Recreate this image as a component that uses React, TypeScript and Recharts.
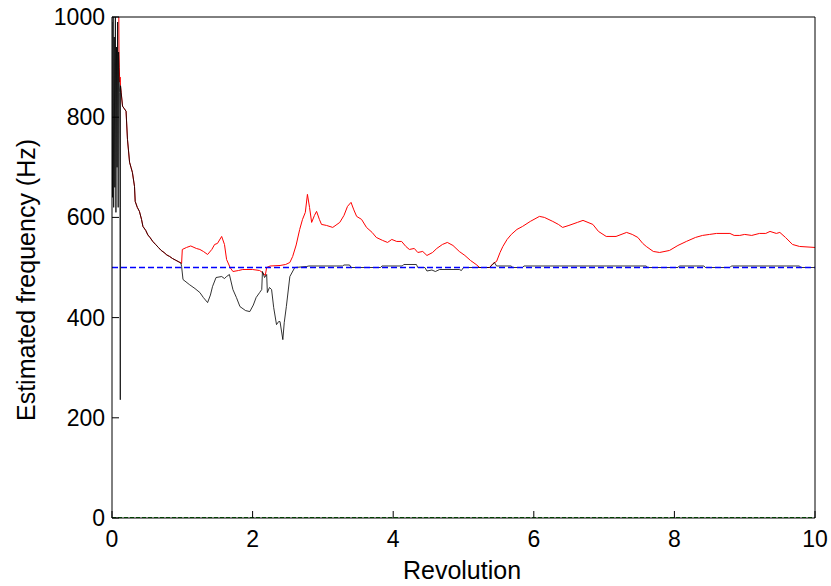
import { Label, Line, LineChart, XAxis, YAxis } from "recharts";

const xTicks = [0, 2, 4, 6, 8, 10];
const yTicks = [0, 200, 400, 600, 800, 1000];

// start-up transient of the black estimate (rapid swings before it locks in)
const blackStartRev = [0, 0.008, 0.016, 0.024, 0.032, 0.04, 0.048, 0.056, 0.064, 0.072, 0.08, 0.088, 0.094, 0.1, 0.108, 0.114, 0.118, 0.121];
const blackStartHz = [990, 640, 1000, 620, 960, 660, 1000, 610, 940, 700, 990, 620, 930, 880, 850, 620, 236, 863];

const redStartRev = [0.085, 0.095, 0.1, 0.104, 0.11, 0.116, 0.121];
const redStartHz = [1300, 1050, 926, 900, 870, 880, 863];

// both estimates follow the same decay until about 1 revolution
const sharedRev = [0.13, 0.15, 0.17, 0.2, 0.22, 0.25, 0.27, 0.29, 0.32, 0.33, 0.36, 0.39, 0.42, 0.44, 0.48, 0.51, 0.54, 0.58, 0.62, 0.66, 0.7, 0.74, 0.78, 0.82, 0.86, 0.9, 0.94, 0.98];
const sharedHz = [850, 822, 818, 812, 756, 710, 700, 690, 662, 632, 620, 612, 596, 582, 574, 565, 560, 552, 546, 540, 534, 530, 525, 522, 518, 515, 512, 509];

const blackRev = [0.99, 1.01, 1.1, 1.18, 1.25, 1.3, 1.36, 1.4, 1.43, 1.48, 1.56, 1.6, 1.63, 1.67, 1.72, 1.77, 1.82, 1.9, 1.96, 2.01, 2.05, 2.1, 2.13, 2.14, 2.17, 2.2, 2.21, 2.24, 2.27, 2.3, 2.34, 2.37, 2.39, 2.43, 2.45, 2.48, 2.53, 2.6, 2.77, 2.8, 3.28, 3.3, 3.38, 3.4, 3.82, 3.84, 4.13, 4.15, 4.33, 4.35, 4.45, 4.48, 4.55, 4.6, 4.66, 4.94, 4.97, 5.0, 5.37, 5.41, 5.44, 5.47, 5.68, 5.7, 5.84, 5.86, 7.6, 7.62, 8.05, 8.07, 8.42, 8.44, 8.79, 8.81, 9.78, 9.8, 10];
const blackHz = [502, 476, 466, 458, 450, 440, 430, 445, 462, 480, 482, 478, 482, 486, 456, 440, 422, 414, 412, 425, 440, 450, 456, 492, 480, 486, 450, 460, 456, 420, 386, 392, 392, 356, 390, 422, 482, 500, 502, 503, 503, 505, 505, 500, 500, 503, 503, 506, 506, 500, 500, 493, 495, 492, 496, 496, 494, 500, 500, 505, 510, 503, 503, 500, 500, 503, 503, 500, 500, 503, 503, 500, 500, 503, 503, 500, 500];

const redRev = [0.99, 1.0, 1.06, 1.12, 1.2, 1.25, 1.3, 1.36, 1.42, 1.46, 1.5, 1.56, 1.6, 1.63, 1.68, 1.72, 1.8, 1.86, 2.0, 2.1, 2.14, 2.18, 2.2, 2.25, 2.39, 2.47, 2.53, 2.57, 2.62, 2.67, 2.71, 2.75, 2.78, 2.81, 2.84, 2.88, 2.91, 2.95, 2.98, 3.05, 3.14, 3.2, 3.24, 3.3, 3.35, 3.4, 3.44, 3.48, 3.55, 3.62, 3.7, 3.76, 3.85, 3.92, 3.98, 4.05, 4.12, 4.18, 4.23, 4.3, 4.35, 4.42, 4.48, 4.56, 4.62, 4.7, 4.77, 4.85, 4.94, 5.02, 5.1, 5.18, 5.23, 5.37, 5.42, 5.47, 5.52, 5.56, 5.62, 5.68, 5.76, 5.84, 5.95, 6.08, 6.15, 6.27, 6.35, 6.41, 6.5, 6.62, 6.7, 6.84, 6.92, 7.03, 7.17, 7.32, 7.4, 7.48, 7.55, 7.6, 7.7, 7.79, 7.93, 8.05, 8.17, 8.3, 8.4, 8.5, 8.6, 8.79, 8.85, 8.93, 9.0, 9.1, 9.21, 9.3, 9.36, 9.45, 9.5, 9.58, 9.68, 9.78, 10];
const redHz = [508, 536, 540, 543, 538, 536, 532, 526, 536, 546, 548, 562, 546, 516, 500, 492, 494, 496, 496, 494, 490, 484, 500, 503, 504, 506, 510, 522, 545, 576, 596, 610, 646, 620, 590, 604, 612, 596, 586, 584, 580, 586, 590, 604, 622, 630, 615, 602, 596, 580, 570, 560, 554, 550, 556, 552, 552, 542, 536, 538, 530, 532, 524, 530, 538, 546, 550, 544, 532, 524, 514, 506, 500, 500, 508, 512, 530, 542, 556, 566, 576, 582, 592, 602, 600, 592, 586, 580, 584, 590, 594, 586, 572, 562, 562, 570, 566, 560, 548, 542, 532, 530, 534, 544, 552, 560, 564, 566, 568, 568, 564, 564, 566, 564, 568, 568, 572, 568, 570, 560, 546, 542, 540];

const trueHz = 500;

const zip = (rev: number[], hz: number[]) => rev.map((r, i) => ({ rev: r, hz: hz[i] }));

const blackData = [
  ...zip(blackStartRev, blackStartHz),
  ...zip(sharedRev, sharedHz),
  ...zip(blackRev, blackHz),
];
const redData = [...zip(redStartRev, redStartHz), ...zip(sharedRev, sharedHz), ...zip(redRev, redHz)];
const trueData = xTicks.map((r) => ({ rev: r, hz: trueHz }));
const zeroData = xTicks.map((r) => ({ rev: r, hz: 0 }));

const FONT = "'Liberation Sans', Arial, sans-serif";
const TICK = 7;

function BottomTick({ x, y, payload }: any) {
  return (
    <g>
      <line x1={x} y1={y} x2={x} y2={y - TICK} stroke="#000" />
      <text x={x} y={y + 29} textAnchor="middle" fontSize={23} fontFamily={FONT} fill="#000">
        {payload.value}
      </text>
    </g>
  );
}

function TopTick({ x, y }: any) {
  return <line x1={x} y1={y} x2={x} y2={y + TICK} stroke="#000" />;
}

function LeftTick({ x, y, payload }: any) {
  return (
    <g>
      <line x1={x} y1={y} x2={x + TICK} y2={y} stroke="#000" />
      <text x={x - 7} y={y + 8} textAnchor="end" fontSize={23} fontFamily={FONT} fill="#000">
        {payload.value}
      </text>
    </g>
  );
}

function RightTick({ x, y }: any) {
  return <line x1={x} y1={y} x2={x - TICK} y2={y} stroke="#000" />;
}

export default function App() {
  return (
    <div style={{ position: "absolute", left: 0, top: 0, width: 831, height: 586, background: "#fff" }}>
      <LineChart width={831} height={586} margin={{ top: 16, right: 15, bottom: 67, left: 111 }}>
        <XAxis
          dataKey="rev"
          type="number"
          domain={[0, 10]}
          ticks={xTicks}
          allowDataOverflow
          height={1}
          tickSize={0}
          tickMargin={0}
          tick={BottomTick}
          axisLine={{ stroke: "#000" }}
          tickLine={false}
        >
          <Label
            content={() => (
              <text x={462} y={579} textAnchor="middle" fontSize={25} fontFamily={FONT} fill="#000">
                Revolution
              </text>
            )}
          />
        </XAxis>
        <XAxis
          xAxisId="top"
          orientation="top"
          type="number"
          domain={[0, 10]}
          ticks={xTicks}
          height={1}
          tickSize={0}
          tickMargin={0}
          tick={TopTick}
          axisLine={{ stroke: "#000" }}
          tickLine={false}
        />
        <YAxis
          dataKey="hz"
          type="number"
          domain={[0, 1000]}
          ticks={yTicks}
          allowDataOverflow
          width={1}
          tickSize={0}
          tickMargin={0}
          tick={LeftTick}
          axisLine={{ stroke: "#000" }}
          tickLine={false}
        >
          <Label
            content={() => (
              <text
                x={35}
                y={280}
                transform="rotate(-90 35 280)"
                textAnchor="middle"
                fontSize={25}
                fontFamily={FONT}
                fill="#000"
              >
                Estimated frequency (Hz)
              </text>
            )}
          />
        </YAxis>
        <YAxis
          yAxisId="right"
          orientation="right"
          type="number"
          domain={[0, 1000]}
          ticks={yTicks}
          width={1}
          tickSize={0}
          tickMargin={0}
          tick={RightTick}
          axisLine={{ stroke: "#000" }}
          tickLine={false}
        />
        <Line data={redData} dataKey="hz" stroke="#ff0000" strokeWidth={1} dot={false} isAnimationActive={false} />
        <Line
          data={blackData}
          dataKey="hz"
          stroke="#000000"
          strokeOpacity={0.8}
          strokeWidth={1}
          dot={false}
          isAnimationActive={false}
        />
        <Line
          data={trueData}
          dataKey="hz"
          stroke="#0000ff"
          strokeDasharray="6 3"
          strokeWidth={1.5}
          dot={false}
          isAnimationActive={false}
        />
        <Line
          data={zeroData}
          dataKey="hz"
          stroke="#008000"
          strokeDasharray="4 2"
          strokeWidth={2}
          dot={false}
          isAnimationActive={false}
        />
      </LineChart>
    </div>
  );
}
